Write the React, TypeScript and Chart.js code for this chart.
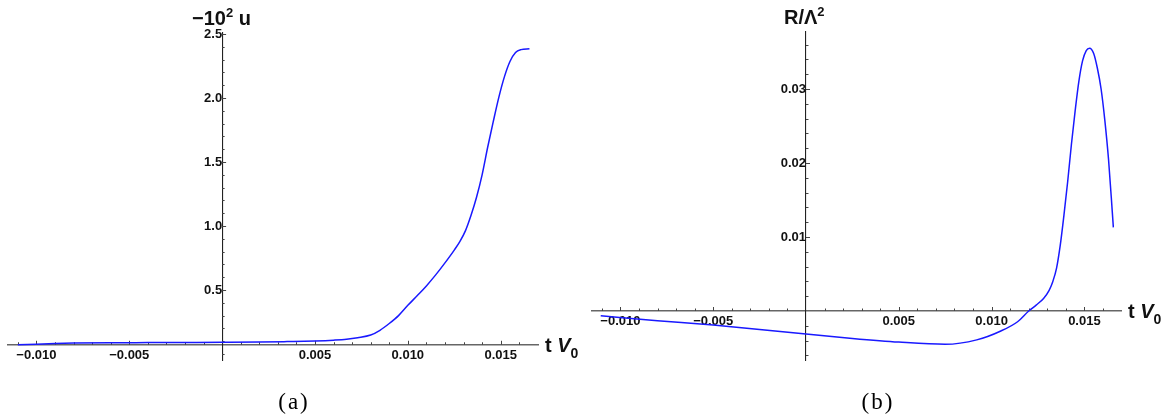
import React, { useEffect, useRef } from 'react';
import { Chart, registerables } from 'chart.js';

Chart.register(...registerables);

// ---- data ----
const tLeft = [
  -0.0110, -0.0100, -0.0090, -0.0080, -0.0060, -0.0040, -0.0020, 0.0000, 0.0020, 0.0035,
  0.0050, 0.0060, 0.0067, 0.0073, 0.0080, 0.0085, 0.0090, 0.0095, 0.0100, 0.0105,
  0.0110, 0.0115, 0.0120, 0.0125, 0.0128, 0.0131, 0.0134, 0.0137, 0.0140, 0.0143,
  0.0146, 0.0149, 0.0152, 0.0155, 0.0158, 0.0161, 0.01655,
];
const uLeft = [
  0.072, 0.077, 0.082, 0.085, 0.088, 0.089, 0.090, 0.091, 0.093, 0.097,
  0.102, 0.108, 0.115, 0.127, 0.148, 0.185, 0.238, 0.300, 0.380, 0.455,
  0.532, 0.618, 0.712, 0.812, 0.878, 0.962, 1.082, 1.225, 1.400, 1.615,
  1.815, 2.005, 2.165, 2.285, 2.355, 2.378, 2.385,
];
const tRight = [
  -0.01106, -0.0080, -0.0050, -0.0025, 0.0000, 0.0025, 0.0050, 0.0075, 0.0092, 0.0105,
  0.0114, 0.0120, 0.0124, 0.0128, 0.0131, 0.0133, 0.0135, 0.0137, 0.0139, 0.0141,
  0.0143, 0.0145, 0.0147, 0.0149, 0.0151, 0.01528, 0.0155, 0.0157, 0.0159, 0.0161,
  0.0163, 0.0165, 0.01656,
];
const rRight = [
  -0.00064, -0.0013, -0.0019, -0.0025, -0.0031, -0.0037, -0.0042, -0.0045, -0.0039, -0.0027,
  -0.00145, 0.0, 0.0008, 0.0017, 0.0028, 0.0040, 0.0058, 0.0089, 0.0130, 0.0175,
  0.0225, 0.0270, 0.0310, 0.0338, 0.0352, 0.0355, 0.0348, 0.0328, 0.0300, 0.0258,
  0.0205, 0.0135, 0.0113,
];
const xTickValues = [-0.01, -0.005, 0.005, 0.01, 0.015];
const leftYTickValues = [0.5, 1.0, 1.5, 2.0, 2.5];
const rightYTickValues = [0.01, 0.02, 0.03];

const X_MIN = -0.01153;
const X_MAX = 0.01701;
const LINE_COLOR = 'rgb(25,25,255)';
const FONT_FAMILY = '"Liberation Sans", Arial, sans-serif';

const fmt = (v: number, d: number) => v.toFixed(d).replace('-', '\u2212');

const near = (a: number, b: number) => Math.abs(a - b) < 1e-9;

const minorTicksPlugin = {
  id: 'minorTicks',
  beforeDatasetsDraw(chart: any, _args: any, opts: any) {
    const { ctx } = chart;
    const xs = chart.scales.x;
    const ys = chart.scales.y;
    const yAxisPix = xs.getPixelForValue(0);
    const xAxisPix = ys.getPixelForValue(opts.xAxisAt);
    ctx.save();
    ctx.strokeStyle = '#444';
    ctx.lineWidth = 1;
    ctx.beginPath();
    const kx0 = Math.ceil(X_MIN / opts.xStep);
    const kx1 = Math.floor(X_MAX / opts.xStep - 0.5);
    for (let k = kx0; k <= kx1; k++) {
      const v = k * opts.xStep;
      if (k === 0) continue;
      const major = opts.xMajors.some((m: number) => near(m, v));
      const len = major ? 4 : 2.5;
      const px = Math.round(xs.getPixelForValue(v)) + 0.5;
      ctx.moveTo(px, xAxisPix);
      ctx.lineTo(px, xAxisPix - len);
    }
    const ky0 = Math.ceil(ys.min / opts.yStep - 1e-9);
    const ky1 = Math.floor(ys.max / opts.yStep + 1e-9);
    for (let k = ky0; k <= ky1; k++) {
      const v = k * opts.yStep;
      if (near(v, opts.xAxisAt)) continue;
      const major = opts.yMajors.some((m: number) => near(m, v));
      const len = major ? 4 : 2.5;
      const py = Math.round(ys.getPixelForValue(v)) + 0.5;
      ctx.moveTo(yAxisPix, py);
      ctx.lineTo(yAxisPix + len, py);
    }
    ctx.stroke();
    ctx.restore();
  },
};

interface PanelProps {
  t: number[];
  v: number[];
  yMin: number;
  yMax: number;
  xAxisAt: number;
  yStep: number;
  yTicks: number[];
  yDigits: number;
  padding: { left: number; right: number; top: number; bottom: number };
  left: number;
}

function Panel(p: PanelProps) {
  const ref = useRef<HTMLCanvasElement | null>(null);
  useEffect(() => {
    if (!ref.current) return;
    const tickFont = { family: FONT_FAMILY, size: 13, weight: 'bold' as const };
    const chart = new Chart(ref.current, {
      type: 'line',
      data: {
        datasets: [
          {
            data: p.t.map((x, i) => ({ x, y: p.v[i] })),
            borderColor: LINE_COLOR,
            borderWidth: 1.5,
            pointRadius: 0,
            fill: false,
            cubicInterpolationMode: 'monotone',
          },
        ],
      },
      options: {
        animation: false,
        responsive: false,
        maintainAspectRatio: false,
        events: [],
        layout: { padding: p.padding },
        plugins: {
          legend: { display: false },
          tooltip: { enabled: false },
          minorTicks: {
            xAxisAt: p.xAxisAt,
            xStep: 0.001,
            yStep: p.yStep,
            xMajors: xTickValues,
            yMajors: p.yTicks,
          },
        } as any,
        scales: {
          x: {
            type: 'linear',
            min: X_MIN,
            max: X_MAX,
            position: { y: p.xAxisAt } as any,
            grid: { display: true, drawOnChartArea: false, drawTicks: false },
            border: { display: true, color: '#666', width: 1.5 },
            afterBuildTicks: (s: any) => {
              s.ticks = xTickValues.map((value) => ({ value }));
            },
            ticks: {
              autoSkip: false,
              maxRotation: 0,
              padding: 3,
              color: '#111',
              font: tickFont,
              callback: (val: any) => fmt(Number(val), 3),
            },
          },
          y: {
            type: 'linear',
            min: p.yMin,
            max: p.yMax,
            position: { x: 0 } as any,
            grid: { display: true, drawOnChartArea: false, drawTicks: false },
            border: { display: true, color: '#222', width: 1.1 },
            afterBuildTicks: (s: any) => {
              s.ticks = p.yTicks.map((value) => ({ value }));
            },
            ticks: {
              autoSkip: false,
              padding: 3,
              color: '#111',
              font: tickFont,
              callback: (val: any) => fmt(Number(val), p.yDigits),
            },
          },
        },
      },
      plugins: [minorTicksPlugin],
    } as any);
    return () => chart.destroy();
  }, []);
  return (
    <canvas
      ref={ref}
      width={586}
      height={417}
      style={{ position: 'absolute', left: p.left, top: 0, width: 586, height: 417 }}
    />
  );
}

const labelStyle: React.CSSProperties = {
  position: 'absolute',
  fontFamily: FONT_FAMILY,
  fontWeight: 'bold',
  fontSize: 20,
  lineHeight: '20px',
  whiteSpace: 'nowrap',
  color: '#111',
};

const captionStyle: React.CSSProperties = {
  position: 'absolute',
  width: 100,
  textAlign: 'center',
  fontFamily: '"Liberation Serif", "Times New Roman", serif',
  fontSize: 23,
  lineHeight: '23px',
  letterSpacing: 2,
  color: '#000',
};

function TV0({ left, top }: { left: number; top: number }) {
  return (
    <div style={{ ...labelStyle, left, top }}>
      t <i>V</i>
      <span style={{ fontSize: 14, position: 'relative', top: 6 }}>0</span>
    </div>
  );
}

export default function App() {
  return (
    <div style={{ position: 'absolute', left: 0, top: 0, width: 1172, height: 417, background: '#fff' }}>
      <Panel
        t={tLeft}
        v={uLeft}
        yMin={-0.0469}
        yMax={2.5078}
        xAxisAt={0.072}
        yStep={0.1}
        yTicks={leftYTickValues}
        yDigits={1}
        padding={{ left: 8, right: 48, top: 33, bottom: 57 }}
        left={0}
      />
      <Panel
        t={tRight}
        v={rRight}
        yMin={-0.00662}
        yMax={0.0377}
        xAxisAt={0}
        yStep={0.002}
        yTicks={rightYTickValues}
        yDigits={2}
        padding={{ left: 6, right: 50.3, top: 32, bottom: 57 }}
        left={586}
      />
      <div style={{ ...labelStyle, left: 192, top: 8 }}>
        {'\u2212'}10<span style={{ fontSize: 13, position: 'relative', top: -8 }}>2</span> u
      </div>
      <TV0 left={545} top={335} />
      <div style={{ ...labelStyle, left: 784, top: 7 }}>
        R/Λ<span style={{ fontSize: 13, position: 'relative', top: -8 }}>2</span>
      </div>
      <TV0 left={1128} top={301} />
      <div style={{ ...captionStyle, left: 244, top: 390 }}>(a)</div>
      <div style={{ ...captionStyle, left: 828, top: 390 }}>(b)</div>
    </div>
  );
}
